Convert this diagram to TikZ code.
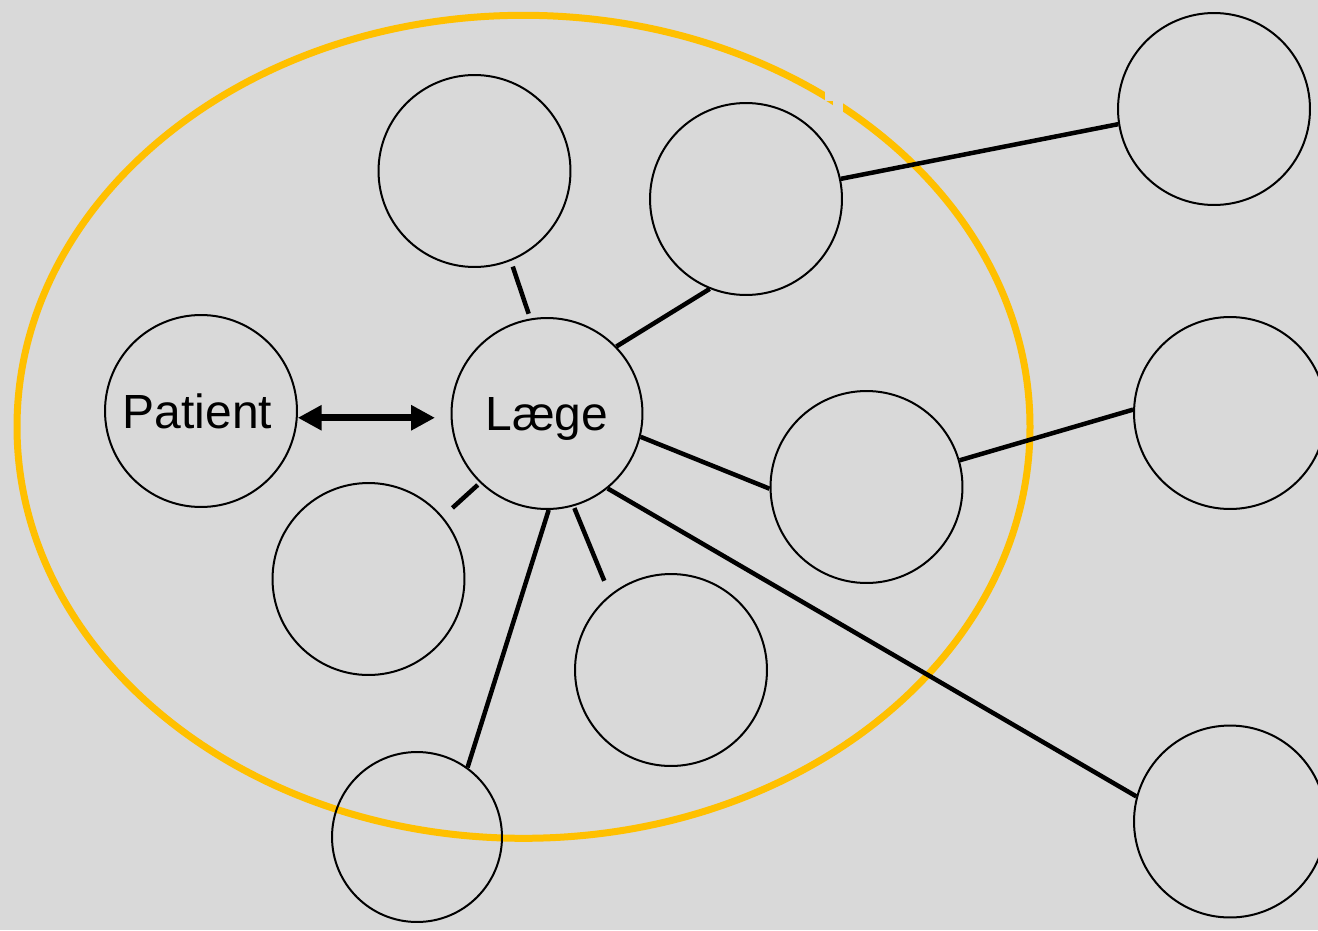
\documentclass[tikz,border=0pt]{standalone}
\usepackage{fontspec}
\setmainfont{Liberation Sans}
\usetikzlibrary{arrows.meta}
\definecolor{bgc}{HTML}{D9D9D9}
\definecolor{ringc}{HTML}{FFC000}
\tikzset{
  bub/.style={circle, draw=black, line width=0.04cm, minimum size=3.84cm, inner sep=0pt,
    font=\fontsize{27.3}{32}\selectfont, text depth=0pt},
  link/.style={draw=black, line width=0.09cm},
  dblarrow/.style={draw=black, line width=0.14cm,
    {Triangle[length=0.48cm,width=0.48cm]}-{Triangle[length=0.48cm,width=0.48cm]}}
}
\begin{document}
\begin{tikzpicture}[x=0.02cm,y=-0.02cm]
\useasboundingbox (0,0) rectangle (1318,930);
\fill[bgc] (0,0) rectangle (1318,930);
% yellow ring
\draw[ringc, line width=0.14cm] (523.5,426.8) ellipse [x radius=506.5, y radius=411.5];
\fill[bgc] (833,85) rectangle (843,118);
\fill[bgc] (825,85) rectangle (843,101);
% nodes
\node[bub] (P)   at (201,411)   {\hspace*{-0.14cm}Patient};
\node[bub, minimum size=3.82cm] (L) at (547,413.5) {Læge};
\node[bub] (TL)  at (474.5,171) {};
\node[bub] (TM)  at (746,199)   {};
\node[bub] (RM)  at (866.5,487) {};
\node[bub] (LL)  at (368.5,579) {};
\node[bub] (LM)  at (671,670)   {};
\node[bub, minimum size=3.4cm] (B) at (417,837) {};
\node[bub] (FRT) at (1214,109)  {};
\node[bub] (FRM) at (1230,413)  {};
\node[bub] (FRB) at (1230,821.5) {};
% connectors
\draw[dblarrow, shorten >=0.31cm] (P.-4.7) -- (P.-4.7 -| L.west);
\draw[link, shorten <=0.1cm, shorten >=0.12cm] (L.100.8) -- (TL.-68.6);
\draw[link] (L.44.2) -- (TM.-112.4);
\draw[link] (L.-14.9) -- (RM.-179.4);
\draw[link, shorten <=0.06cm, shorten >=0.26cm] (L.-134.6) -- (LL.40.9);
\draw[link, shorten <=0.04cm, shorten >=0.3cm] (L.-74.7) -- (LM.129.2);
\draw[link] (L.-89.4) -- (B.54.6);
\draw[link] (L.-51.8) -- (FRB.165.8);
\draw[link] (TM.12.2) -- (FRT.-171.2);
\draw[link] (RM.16.3) -- (FRM.178.8);
\end{tikzpicture}
\end{document}
